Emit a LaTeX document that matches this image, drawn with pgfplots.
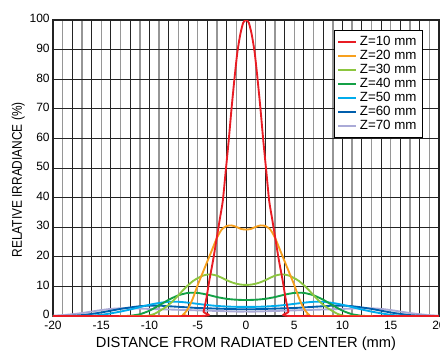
\documentclass[border=0pt]{standalone}
\usepackage{fontspec}
\setmainfont{Liberation Sans}
\usepackage{graphicx}
\usepackage{pgfplots}
\pgfplotsset{compat=1.18}
\definecolor{cRed}{RGB}{232,28,36}
\definecolor{cOrange}{RGB}{247,160,30}
\definecolor{cLime}{RGB}{140,198,63}
\definecolor{cGreen}{RGB}{20,160,70}
\definecolor{cCyan}{RGB}{0,172,236}
\definecolor{cBlue}{RGB}{0,94,172}
\definecolor{cLav}{RGB}{170,170,215}
\definecolor{gridDark}{RGB}{35,35,35}
\definecolor{gridGray}{RGB}{150,150,150}
\tikzset{curve/.style={line width=1.4pt, smooth, tension=0.4}}
\begin{document}
\begin{tikzpicture}
\path[use as bounding box] (-39.75pt,-26.25pt) rectangle (290.25pt,237pt);
\begin{axis}[
  at={(0pt,0pt)}, anchor=south west,
  scale only axis, width=289.5pt, height=222pt,
  xmin=-20, xmax=20, ymin=0, ymax=100,
  xtick={-20,-15,...,20}, ytick={0,10,...,100},
  minor xtick={-19,-17,...,19},
  extra x ticks={-18,-16,...,18},
  extra x tick labels={},
  extra x tick style={grid=major},
  xmajorgrids=false, ymajorgrids=true, xminorgrids=true,
  major grid style={gridDark, line width=0.7pt},
  minor grid style={gridGray, line width=1pt},
  major tick length=0pt, minor tick length=0pt,
  axis line style={gridDark, line width=0.8pt},
  /pgf/number format/assume math mode=true,
  tick label style={font=\fontsize{9}{10}\selectfont},
  yticklabel style={xshift=1pt, yshift=1pt},
  xticklabel style={yshift=-0.5pt},
  xlabel={DISTANCE FROM RADIATED CENTER (mm)},
  ylabel={\scalebox{0.85}[1]{RELATIVE IRRADIANCE (\%)}},
  xlabel style={font=\fontsize{11}{13}\selectfont, at={(axis description cs:0.5,-0.095)}, anchor=center},
  ylabel style={font=\fontsize{10.5}{12}\selectfont, at={(axis description cs:-0.09,0.46)}, anchor=center},
  reverse legend,
  legend cell align=left,
  legend style={at={(0.9585,0.966)}, anchor=north east, draw=black, line width=0.6pt,
    fill=white, font=\fontsize{10}{11}\selectfont, row sep=-2pt, inner sep=2.5pt},
  legend image code/.code={\draw[#1,line width=1.4pt] (0pt,0pt) -- (13.5pt,0pt);},
]
\addplot[curve,cLav] coordinates {(-20,0.1)(-19,0.3)(-18,0.6)(-17,1)(-16,1.5)(-15,2)(-14,2.4)(-13,2.6)(-12,2.6)(-11,2.5)(-10,2.4)(-9,2.3)(-8,2.2)(-7,2.1)(-6,2)(-5,1.9)(-4,1.8)(-3,1.7)(-2,1.6)(-1,1.5)(0,1.5)(1,1.5)(2,1.6)(3,1.7)(4,1.8)(5,1.9)(6,2)(7,2.1)(8,2.2)(9,2.3)(10,2.4)(11,2.5)(12,2.6)(13,2.6)(14,2.4)(15,2)(16,1.5)(17,1)(18,0.6)(19,0.3)(20,0.1)};
\addplot[curve,cBlue] coordinates {(-20,0)(-19,0)(-18,0.1)(-17,0.3)(-16,0.7)(-15,1.2)(-14,1.8)(-13,2.4)(-12,2.9)(-11,3.3)(-10,3.5)(-9,3.5)(-8,3.3)(-7,3.1)(-6,2.9)(-5,2.7)(-4,2.6)(-3,2.5)(-2,2.4)(-1,2.3)(0,2.3)(1,2.3)(2,2.4)(3,2.5)(4,2.6)(5,2.7)(6,2.9)(7,3.1)(8,3.3)(9,3.5)(10,3.5)(11,3.3)(12,2.9)(13,2.4)(14,1.8)(15,1.2)(16,0.7)(17,0.3)(18,0.1)(19,0)(20,0)};
\addplot[curve,cCyan] coordinates {(-20,0)(-17,0)(-16,0.1)(-15,0.4)(-14,0.9)(-13,1.5)(-12,2.2)(-11,3)(-10,3.8)(-9,4.4)(-8,4.8)(-7,4.8)(-6,4.5)(-5,4.1)(-4,3.7)(-3,3.4)(-2,3.2)(-1,3.1)(0,3.1)(1,3.1)(2,3.2)(3,3.4)(4,3.7)(5,4.1)(6,4.5)(7,4.8)(8,4.8)(9,4.4)(10,3.8)(11,3)(12,2.2)(13,1.5)(14,0.9)(15,0.4)(16,0.1)(17,0)(20,0)};
\addplot[curve,cGreen] coordinates {(-20,0)(-13,0)(-12,0.1)(-11,0.6)(-10,1.8)(-9,3.6)(-8,5.5)(-7,7)(-6,7.8)(-5,7.8)(-4,7.2)(-3,6.4)(-2,5.8)(-1,5.5)(0,5.4)(1,5.5)(2,5.8)(3,6.4)(4,7.2)(5,7.8)(6,7.8)(7,7)(8,5.5)(9,3.6)(10,1.8)(11,0.6)(12,0.1)(13,0)(20,0)};
\addplot[curve,cLime] coordinates {(-20,0)(-10.5,0)(-10,0.2)(-9.5,0.7)(-9,1.6)(-8.5,2.6)(-8,3.8)(-7.5,5.3)(-7,7)(-6.5,8.8)(-6,10.4)(-5.5,11.8)(-5,12.8)(-4.5,13.6)(-4,14)(-3.5,14)(-3,13.6)(-2.5,12.9)(-2,12.1)(-1.5,11.4)(-1,10.9)(-0.5,10.6)(0,10.5)(0.5,10.6)(1,10.9)(1.5,11.4)(2,12.1)(2.5,12.9)(3,13.6)(3.5,14)(4,14)(4.5,13.6)(5,12.8)(5.5,11.8)(6,10.4)(6.5,8.8)(7,7)(7.5,5.3)(8,3.8)(8.5,2.6)(9,1.6)(9.5,0.7)(10,0.2)(10.5,0)(20,0)};
\addplot[curve,cOrange] coordinates {(-20,0)(-7,0)(-6.5,0.5)(-6,2.5)(-5.5,6)(-5,10.5)(-4.5,14.5)(-4,18.5)(-3.5,22.5)(-3,26.5)(-2.5,29.3)(-2,30.4)(-1.5,30.6)(-1,30.1)(-0.5,29.4)(0,29.2)(0.5,29.4)(1,30.1)(1.5,30.6)(2,30.4)(2.5,29.3)(3,26.5)(3.5,22.5)(4,18.5)(4.5,14.5)(5,10.5)(5.5,6)(6,2.5)(6.5,0.5)(7,0)(20,0)};
\addplot[curve,cRed] coordinates {(-20,0)(-4.7,0)(-4.4,1.5)(-4.1,6)(-3.8,12)(-3.4,19)(-3,27)(-2.7,33)(-2.4,39)(-2.1,49)(-1.8,59)(-1.5,70)(-1.2,80)(-0.9,89)(-0.6,95)(-0.3,99)(0,100)(0.3,99)(0.6,95)(0.9,89)(1.2,80)(1.5,70)(1.8,59)(2.1,49)(2.4,39)(2.7,33)(3,27)(3.4,19)(3.8,12)(4.1,6)(4.4,1.5)(4.7,0)(20,0)};
\legend{Z=70 mm,Z=60 mm,Z=50 mm,Z=40 mm,Z=30 mm,Z=20 mm,Z=10 mm}
\node[anchor=south west, inner sep=0pt, font=\fontsize{7.5}{9}\selectfont] at (rel axis cs:0,1) [yshift=3pt] {TLSXB0147EA};
\end{axis}
\end{tikzpicture}
\end{document}
